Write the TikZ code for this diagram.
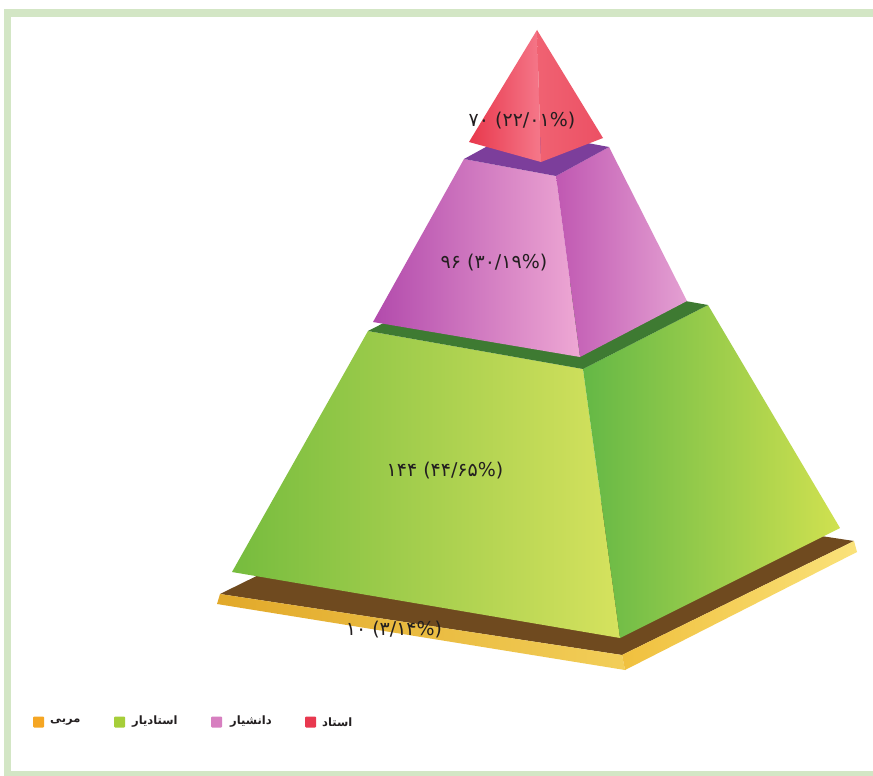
\documentclass[tikz,border=0pt]{standalone}
\usepackage{fontspec}
\TeXXeTstate=1
\newfontfamily\arabicfont[Script=Arabic]{DejaVu Sans}
\newfontfamily\digitfont{DejaVu Sans}
\definecolor{framegreen}{HTML}{D3E6C5}
\definecolor{txt}{HTML}{231F20}
\definecolor{legorange}{HTML}{F5A623}
\definecolor{leggreen}{HTML}{A6CE39}
\definecolor{legpink}{HTML}{D77FC0}
\definecolor{legred}{HTML}{E8384F}
\tikzset{
  valuelabel/.style={text=txt, inner sep=0pt, font=\digitfont\fontsize{19}{19}\selectfont},
  legendtext/.style={text=txt, inner sep=0pt, anchor=west, font=\arabicfont\bfseries\fontsize{11.5}{11.5}\selectfont},
  legendbox/.style={minimum width=11pt, minimum height=11pt, inner sep=0pt, rounded corners=1pt, anchor=west}
}
\begin{document}
\begin{tikzpicture}[x=1pt,y=-1pt]
\useasboundingbox (0,0) rectangle (873,776);
\fill[white] (0,0) rectangle (873,776);
% frame
\fill[framegreen] (4,9) rectangle (873,17);
\fill[framegreen] (4,9) rectangle (11,776);
\fill[framegreen] (4,771) rectangle (873,776);

% ---------- coordinates ----------
% base slab
\coordinate (sL) at (220,594);
\coordinate (sF) at (622,655);
\coordinate (sR) at (854,541);
\coordinate (sB) at (452,480);
\coordinate (sL2) at (217,604);
\coordinate (sF2) at (625,670);
\coordinate (sR2) at (857,552);
% green frustum
\coordinate (gL) at (232,572);
\coordinate (gF) at (620,638);
\coordinate (gR) at (840,528);
\coordinate (tL) at (368,331);
\coordinate (tF) at (583,369);
\coordinate (tR) at (708,305);
\coordinate (tB) at (493,267);
% purple frustum
\coordinate (pL) at (373,322);
\coordinate (pF) at (580,357);
\coordinate (pR) at (687,301);
\coordinate (qL) at (464,159);
\coordinate (qF) at (556,176);
\coordinate (qR) at (609,147);
\coordinate (qB) at (517,130);
% red pyramid
\coordinate (A) at (537,30);
\coordinate (rL) at (469,142);
\coordinate (rF) at (541,162);
\coordinate (rR) at (603,138);

% ---------- base slab ----------
\fill[color={rgb,255:red,111;green,74;blue,31}] (sL) -- (sF) -- (sR) -- (sB) -- cycle;
\shade[left color={rgb,255:red,226;green,169;blue,42}, right color={rgb,255:red,242;green,206;blue,88}] (sL) -- (sF) -- (sF2) -- (sL2) -- cycle;
\shade[left color={rgb,255:red,240;green,192;blue,62}, right color={rgb,255:red,250;green,226;blue,122}] (sF) -- (sR) -- (sR2) -- (sF2) -- cycle;

% ---------- green frustum ----------
\shade[left color={rgb,255:red,118;green,188;blue,62}, right color={rgb,255:red,214;green,226;blue,94}] (tL) -- (tF) -- (gF) -- (gL) -- cycle;
\shade[left color={rgb,255:red,100;green,184;blue,70}, right color={rgb,255:red,208;green,225;blue,80}] (tF) -- (tR) -- (gR) -- (gF) -- cycle;
\fill[color={rgb,255:red,62;green,122;blue,50}] (tL) -- (tF) -- (tR) -- (tB) -- cycle;

% ---------- purple frustum ----------
\shade[left color={rgb,255:red,178;green,74;blue,172}, right color={rgb,255:red,238;green,168;blue,212}] (qL) -- (qF) -- (pF) -- (pL) -- cycle;
\shade[left color={rgb,255:red,192;green,88;blue,178}, right color={rgb,255:red,228;green,160;blue,210}] (qF) -- (qR) -- (pR) -- (pF) -- cycle;
\fill[color={rgb,255:red,124;green,62;blue,155}] (qL) -- (qF) -- (qR) -- (qB) -- cycle;

% ---------- red pyramid ----------
\shade[left color={rgb,255:red,232;green,56;blue,76}, right color={rgb,255:red,245;green,120;blue,138}] (A) -- (rL) -- (rF) -- cycle;
\shade[left color={rgb,255:red,240;green,98;blue,114}, right color={rgb,255:red,236;green,80;blue,100}] (A) -- (rF) -- (rR) -- cycle;

% ---------- value labels (set left to right, as printed) ----------
\node[valuelabel] (lred) at (522,121) {۷۰ (۲۲/۰۱\%)};
\node[valuelabel] (lpurple) at (494,263) {۹۶ (۳۰/۱۹\%)};
\node[valuelabel] (lgreen) at (445,471) {۱۴۴ (۴۴/۶۵\%)};
\node[valuelabel] (lbase) at (394,630) {۱۰ (۳/۱۴\%)};

% ---------- legend ----------
\node[legendbox, fill=legorange] (k1) at (33,722) {};
\node[legendtext] (t1) at (50,722) {\beginR مربی\endR};
\node[legendbox, fill=leggreen] (k2) at (114,722) {};
\node[legendtext] (t2) at (132,722) {\beginR استادیار\endR};
\node[legendbox, fill=legpink] (k3) at (211,722) {};
\node[legendtext] (t3) at (230,722) {\beginR دانشیار\endR};
\node[legendbox, fill=legred] (k4) at (305,722) {};
\node[legendtext] (t4) at (322,722) {\beginR استاد\endR};
\end{tikzpicture}
\end{document}
